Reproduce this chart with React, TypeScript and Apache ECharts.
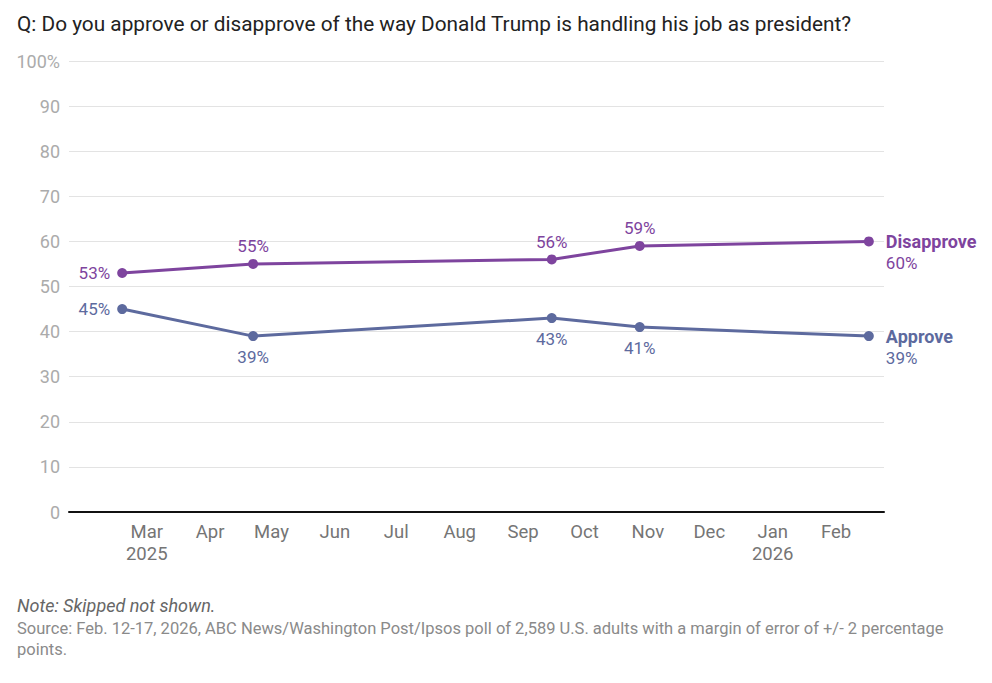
import React, { useEffect, useRef } from "react";
import * as echarts from "echarts";

const pollDates = ["2025-02-17", "2025-04-22", "2025-09-15", "2025-10-28", "2026-02-17"];
const disapproveValues = [53, 55, 56, 59, 60];
const approveValues = [45, 39, 43, 41, 39];
const monthTicks = [
  "2025-03-01", "2025-04-01", "2025-05-01", "2025-06-01", "2025-07-01", "2025-08-01",
  "2025-09-01", "2025-10-01", "2025-11-01", "2025-12-01", "2026-01-01", "2026-02-01",
];
const monthNames = ["Jan", "Feb", "Mar", "Apr", "May", "Jun", "Jul", "Aug", "Sep", "Oct", "Nov", "Dec"];
const axisStart = "2025-01-22";
const axisEnd = "2026-02-24T10:00:00";

const disapprovePlacement = ["left", "top", "top", "top", "end"];
const approvePlacement = ["left", "bottom", "bottom", "bottom", "end"];

const PURPLE = "#7e449e";
const BLUE = "#5d6a9e";
const FONT = "Roboto";

function ts(s: string): number {
  const [d, t] = s.split("T");
  const [y, m, dd] = d.split("-").map(Number);
  let h = 0;
  if (t) h = Number(t.split(":")[0]);
  return new Date(y, m - 1, dd, h).getTime();
}

function buildSeriesData(values: number[], placement: string[], name: string, color: string) {
  return values.map((v, i) => {
    const p = placement[i];
    let label: any;
    if (p === "end") {
      label = {
        show: true,
        position: "right",
        distance: 12,
        offset: [0, 11],
        formatter: `{n|${name}}\n{v|${v}%}`,
        rich: {
          n: { fontFamily: FONT, fontSize: 18, fontWeight: "bold", color, lineHeight: 22 },
          v: { fontFamily: FONT, fontSize: 17, color, lineHeight: 22 },
        },
      };
    } else {
      label = {
        show: true,
        position: p,
        distance: p === "left" ? 7 : p === "top" ? 4 : 7,
        formatter: `${v}%`,
        fontFamily: FONT,
        fontSize: 17,
        color,
      };
    }
    return { value: [ts(pollDates[i]), v], label };
  });
}

export default function App() {
  const ref = useRef<HTMLDivElement>(null);
  useEffect(() => {
    if (!ref.current) return;
    const chart = echarts.init(ref.current, null, { renderer: "svg" });
    const tickTs = monthTicks.map(ts);
    const option: any = {
      animation: false,
      backgroundColor: "#ffffff",
      title: [
        {
          text: "Q: Do you approve or disapprove of the way Donald Trump is handling his job as president?",
          left: 12,
          top: 8,
          textStyle: { fontFamily: FONT, fontSize: 20.8, fontWeight: "normal", color: "#222222" },
        },
        {
          text: "Note: Skipped not shown.",
          left: 12,
          top: 591,
          textStyle: { fontFamily: FONT, fontSize: 18, fontWeight: "normal", fontStyle: "italic", color: "#666666" },
        },
        {
          text: "Source: Feb. 12-17, 2026, ABC News/Washington Post/Ipsos poll of 2,589 U.S. adults with a margin of error of +/- 2 percentage\npoints.",
          left: 12,
          top: 613,
          textStyle: { fontFamily: FONT, fontSize: 16.5, fontWeight: "normal", color: "#8a8a8a", lineHeight: 21 },
        },
      ],
      grid: { left: 69, right: 108, top: 61, bottom: 171, containLabel: false },
      xAxis: {
        type: "value",
        min: ts(axisStart),
        max: ts(axisEnd),
        axisLine: { show: true, onZero: false, lineStyle: { color: "#111111", width: 2 } },
        axisTick: { show: false },
        splitLine: { show: false },
        axisLabel: {
          show: true,
          customValues: tickTs,
          margin: 9,
          fontFamily: FONT,
          fontSize: 18.5,
          color: "#757575",
          lineHeight: 22,
          hideOverlap: false,
          formatter: (val: number) => {
            const d = new Date(val);
            const m = monthNames[d.getMonth()];
            if (d.getMonth() === 0 || val === tickTs[0]) return `${m}\n${d.getFullYear()}`;
            return m;
          },
        },
      },
      yAxis: {
        type: "value",
        min: 0,
        max: 100,
        interval: 10,
        axisLine: { show: false },
        axisTick: { show: false },
        splitLine: { show: true, lineStyle: { color: "#e3e3e3", width: 1 } },
        axisLabel: {
          margin: 9,
          fontFamily: FONT,
          fontSize: 18,
          color: "#ababab",
          formatter: (v: number) => (v === 100 ? "100%" : String(v)),
        },
      },
      series: [
        {
          name: "Disapprove",
          type: "line",
          data: buildSeriesData(disapproveValues, disapprovePlacement, "Disapprove", PURPLE),
          symbol: "circle",
          symbolSize: 10,
          lineStyle: { color: PURPLE, width: 3 },
          itemStyle: { color: PURPLE },
          z: 3,
        },
        {
          name: "Approve",
          type: "line",
          data: buildSeriesData(approveValues, approvePlacement, "Approve", BLUE),
          symbol: "circle",
          symbolSize: 10,
          lineStyle: { color: BLUE, width: 3 },
          itemStyle: { color: BLUE },
          z: 3,
        },
      ],
    };
    chart.setOption(option);
    return () => chart.dispose();
  }, []);
  return (
    <div
      ref={ref}
      style={{ position: "fixed", left: 0, top: 0, width: 992, height: 683 }}
    />
  );
}
